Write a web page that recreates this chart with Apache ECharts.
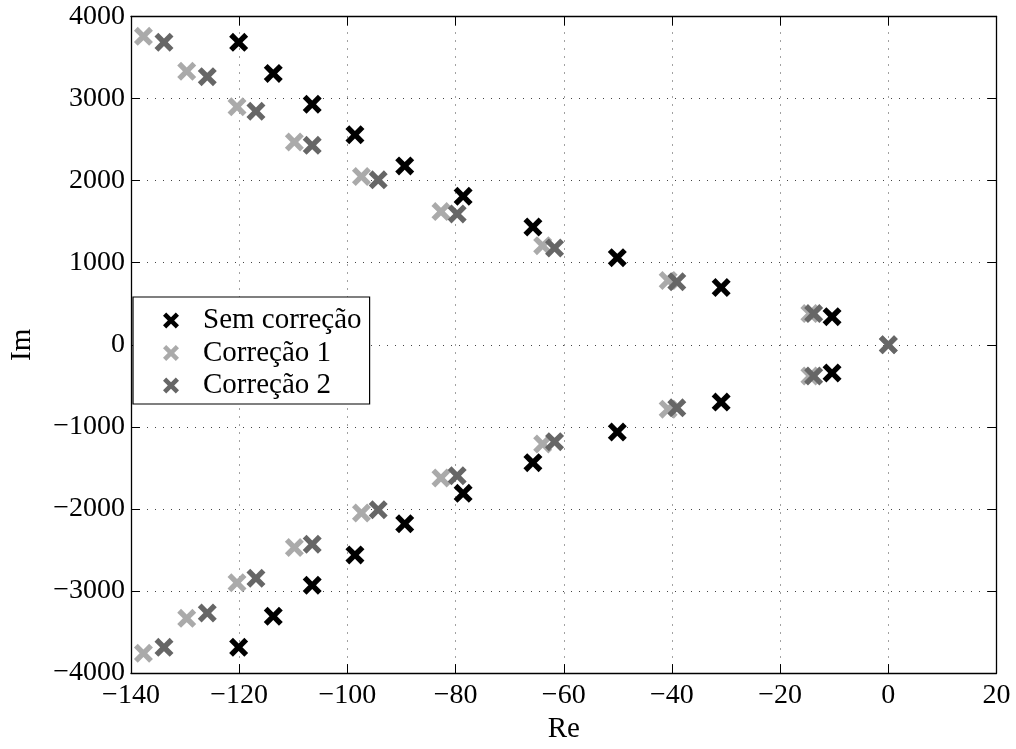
<!DOCTYPE html>
<html>
<head>
<meta charset="utf-8">
<script src="https://cdn.jsdelivr.net/npm/echarts@6/dist/echarts.min.js"></script>
<style>
  html, body { margin: 0; padding: 0; background: #fff; }
  #chart { width: 1016px; height: 749px; }
</style>
</head>
<body>
<div id="chart"></div>
<script>
// Pole locations (real part, imaginary part) for each configuration
const seriesNames = ['Sem correção', 'Correção 1', 'Correção 2'];

const reSem = [-120.1, -113.7, -106.5, -98.6, -89.4, -78.6, -65.7, -50.1, -30.9, -10.4,
               -120.1, -113.7, -106.5, -98.6, -89.4, -78.6, -65.7, -50.1, -30.9, -10.4];
const imSem = [3685, 3307, 2930, 2560, 2180, 1810, 1436, 1062, 698, 343,
               -3685, -3307, -2930, -2560, -2180, -1810, -1436, -1062, -698, -343];

const reC1 = [-137.7, -129.7, -120.4, -109.8, -97.4, -82.7, -63.9, -40.7, -14.5, 0,
              -137.7, -129.7, -120.4, -109.8, -97.4, -82.7, -63.9, -40.7, -14.5];
const imC1 = [3758, 3333, 2900, 2470, 2050, 1623, 1208, 784, 380, 0,
              -3758, -3333, -2900, -2470, -2050, -1623, -1208, -784, -380];

const reC2 = [-133.9, -125.9, -116.9, -106.5, -94.3, -79.7, -61.7, -39.1, -13.8, 0,
              -133.9, -125.9, -116.9, -106.5, -94.3, -79.7, -61.7, -39.1, -13.8];
const imC2 = [3686, 3267, 2845, 2430, 2010, 1595, 1180, 768, 380, 0,
              -3686, -3267, -2845, -2430, -2010, -1595, -1180, -768, -380];

const xTicks = { min: -140, max: 20, interval: 20 };
const yTicks = { min: -4000, max: 4000, interval: 1000 };

const colors = ['#000000', '#aaaaaa', '#666666'];

// Thick "x" marker
const crossPath = 'path://M20,0 L50,30 L80,0 L100,20 L70,50 L100,80 L80,100 L50,70 L20,100 L0,80 L30,50 L0,20 Z';

const font = '"Liberation Serif", "DejaVu Serif", serif';

function pairs(re, im) {
  return re.map((r, i) => [r, im[i]]);
}

const chart = echarts.init(document.getElementById('chart'), null, { renderer: 'canvas' });

const axisCommon = {
  axisLine: { show: true, onZero: false, lineStyle: { color: '#000', width: 1.3 } },
  axisTick: { show: true, inside: true, length: 9, lineStyle: { color: '#000', width: 1 } }
};

const gridLine = { show: true, lineStyle: { color: '#444', width: 1, type: [1, 7] } };

chart.setOption({
  animation: false,
  backgroundColor: '#fff',
  grid: { left: 124.5, right: 19.5, top: 16.5, bottom: 64.5, containLabel: false },
  legend: {
    left: 133, top: 297,
    orient: 'vertical',
    backgroundColor: '#fff',
    borderColor: '#000',
    borderWidth: 1.2,
    borderRadius: 0,
    padding: [9, 8, 4, 30],
    itemGap: 3.5,
    itemWidth: 16,
    itemHeight: 16,
    icon: crossPath,
    data: seriesNames,
    textStyle: { fontFamily: font, fontSize: 29, color: '#000', padding: [0, 0, 0, 19] }
  },
  xAxis: [
    Object.assign({
      type: 'value', position: 'bottom',
      min: xTicks.min, max: xTicks.max, interval: xTicks.interval,
      name: 'Re', nameLocation: 'middle', nameGap: 37,
      nameTextStyle: { fontFamily: font, fontSize: 29, color: '#000' },
      axisLabel: {
        fontFamily: font, fontSize: 28, color: '#000', margin: 9,
        formatter: v => String(v).replace('-', '\u2212')
      },
      splitLine: gridLine
    }, axisCommon),
    Object.assign({
      type: 'value', position: 'top',
      min: xTicks.min, max: xTicks.max, interval: xTicks.interval,
      axisLabel: { show: false }, splitLine: { show: false }
    }, axisCommon)
  ],
  yAxis: [
    Object.assign({
      type: 'value', position: 'left',
      min: yTicks.min, max: yTicks.max, interval: yTicks.interval,
      name: 'Im', nameLocation: 'middle', nameGap: 94,
      nameTextStyle: { fontFamily: font, fontSize: 29, color: '#000' },
      axisLabel: {
        fontFamily: font, fontSize: 28, color: '#000', margin: 6,
        formatter: v => String(v).replace('-', '\u2212')
      },
      splitLine: gridLine
    }, axisCommon),
    Object.assign({
      type: 'value', position: 'right',
      min: yTicks.min, max: yTicks.max, interval: yTicks.interval,
      axisLabel: { show: false }, splitLine: { show: false }
    }, axisCommon)
  ],
  series: [
    { name: seriesNames[0], data: pairs(reSem, imSem), color: colors[0] },
    { name: seriesNames[1], data: pairs(reC1, imC1), color: colors[1] },
    { name: seriesNames[2], data: pairs(reC2, imC2), color: colors[2] }
  ].map(s => ({
    type: 'scatter',
    name: s.name,
    data: s.data,
    xAxisIndex: 0, yAxisIndex: 0,
    symbol: crossPath,
    symbolSize: 19,
    itemStyle: { color: s.color, opacity: 1 },
    emphasis: { disabled: true }
  }))
});
</script>
</body>
</html>
